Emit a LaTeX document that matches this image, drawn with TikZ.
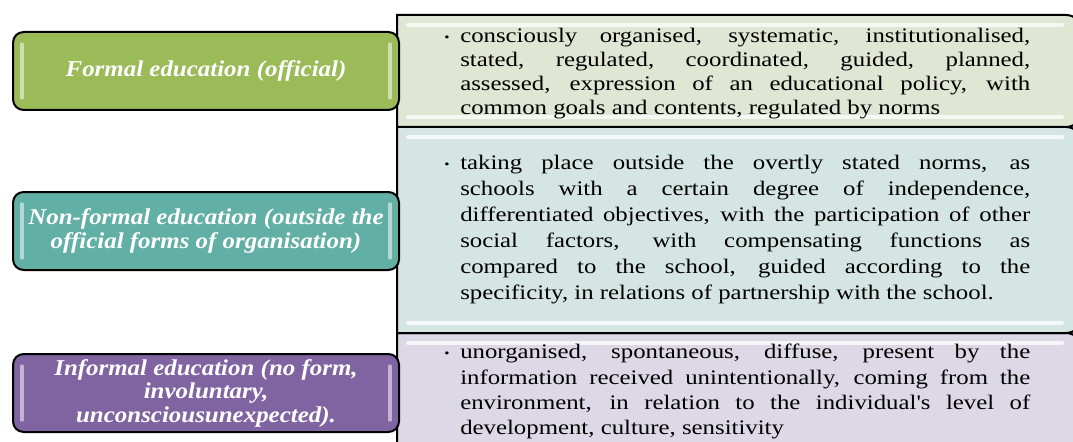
\documentclass[tikz,border=0pt]{standalone}
\usepackage{fontspec}
\setmainfont{Liberation Serif}
\newfontfamily\widefont[FakeStretch=1.2]{Liberation Serif}
\newfontfamily\kindfont[FakeStretch=1.1]{Liberation Serif}
\usetikzlibrary{positioning}

\definecolor{formal}{HTML}{9BBB59}
\definecolor{nonformal}{HTML}{62AFA5}
\definecolor{informal}{HTML}{8064A2}
\definecolor{formalbg}{HTML}{DFE6D3}
\definecolor{nonformalbg}{HTML}{D5E5E3}
\definecolor{informalbg}{HTML}{DCD8E6}

% small bullet hung out in the margin, lines broken by hand
\newcommand{\bulletpar}[1]{\noindent
  \makebox[0pt][r]{\raisebox{1pt}{\scalebox{0.6}{\textbullet}}\hspace{8pt}}#1}

\begin{document}
\begin{tikzpicture}[x=0.75pt,y=-0.75pt,
  kind/.style={draw=black,line width=1.5pt,rounded corners=8pt,
    minimum width=289.5pt,minimum height=58.5pt,inner sep=2pt,
    text=white,align=center,
    font=\kindfont\fontsize{17}{17.6}\selectfont\bfseries\itshape},
  desc/.style={anchor=north west,inner sep=0pt,text width=427.5pt,
    align=justify,font=\widefont\fontsize{15.5}{#1}\selectfont},
  shine/.style={line width=3pt,line cap=round,opacity=0.75}]
\useasboundingbox (0,0) rectangle (1073,442);
\clip (0,0) rectangle (1073,442);

% description panels, square on the left, rounded on the right
\foreach \top/\bot/\col in {333/470/informalbg,127/333/nonformalbg,15/127/formalbg}{
  \draw[line width=1.5pt,fill=\col] (397,\bot) -- (397,\top)
    [rounded corners=12pt] -- (1082,\top) -- (1082,\bot) [sharp corners] -- cycle;
  \draw[shine,white] (408,\top+10) -- (1062,\top+10);
  \draw[shine,white] (408,\bot-10) -- (1062,\bot-10);
}

\node[desc=18] (formaltext) at (460,28) {\bulletpar{consciously organised, systematic, institutionalised,\linebreak
  stated, regulated, coordinated, guided, planned,\linebreak
  assessed, expression of an educational policy, with\linebreak
  common goals and contents, regulated by norms}};
\node[desc=19.5] (nonformaltext) at (460,155) {\bulletpar{taking place outside the overtly stated norms, as\linebreak
  schools with a certain degree of independence,\linebreak
  differentiated objectives, with the participation of other\linebreak
  social factors, with compensating functions as\linebreak
  compared to the school, guided according to the\linebreak
  specificity, in relations of partnership with the school.}};
\node[desc=19] (informaltext) at (460,344) {\bulletpar{unorganised, spontaneous, diffuse, present by the\linebreak
  information received unintentionally, coming from the\linebreak
  environment, in relation to the individual's level of\linebreak
  development, culture, sensitivity}};

% the three kinds of education
\node[kind,fill=formal] (formalbox) at (206,71) {Formal education (official)};
\node[kind,fill=nonformal] (nonformalbox) at (206,231)
  {Non-formal education (outside the\\official forms of organisation)};
\node[kind,fill=informal] (informalbox) at (206,393)
  {Informal education (no form,\\involuntary,\\unconsciousunexpected).};

\foreach \kindbox/\tint in {formalbox/formal,nonformalbox/nonformal,informalbox/informal}{
  \draw[shine,\tint!30!white] ([xshift=7.5pt,yshift=-10pt]\kindbox.north west)
    -- ([xshift=7.5pt,yshift=10pt]\kindbox.south west);
  \draw[shine,\tint!30!white] ([xshift=-7.5pt,yshift=-10pt]\kindbox.north east)
    -- ([xshift=-7.5pt,yshift=10pt]\kindbox.south east);
}
\end{tikzpicture}
\end{document}
